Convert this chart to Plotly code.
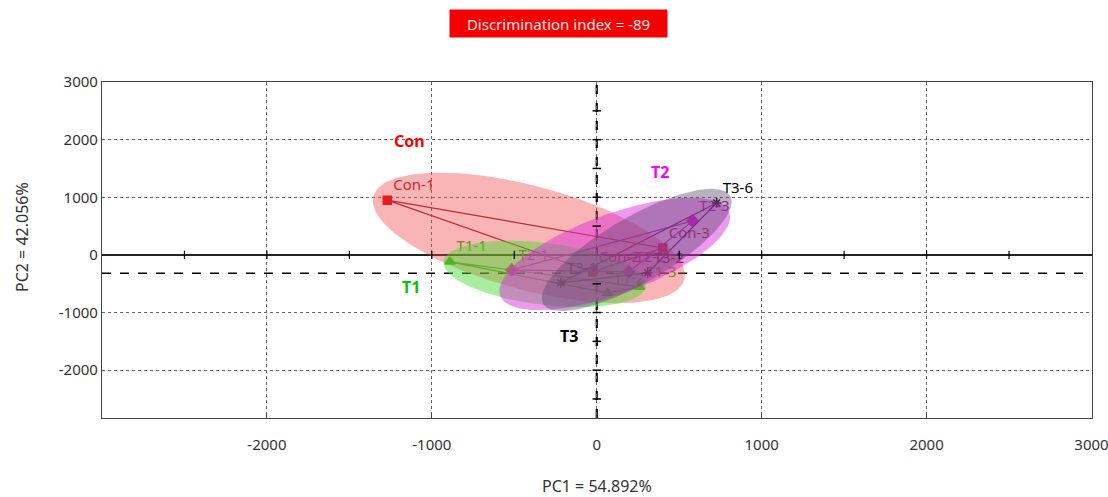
import numpy as np
import plotly.graph_objects as go

# ---------------- data ----------------
con_names = ["Con-1", "Con-2", "Con-3"]
con_x = [-1270, -25, 400]
con_y = [950, -295, 120]

t1_names = ["T1-1", "T1-2", "T1-3"]
t1_x = [-890, 65, 260]
t1_y = [-120, -660, -555]

t2_names = ["T2-1", "T2-2", "T2-3"]
t2_x = [-515, 194, 582]
t2_y = [-260, -295, 590]

t3_names = ["T3-1", "T3-2", "T3-6"]
t3_x = [-218, 309, 727]
t3_y = [-486, -312, 902]

x_ticks = [-2000, -1000, 0, 1000, 2000, 3000]
x_ticktext = ["-2000", "-1000", "0", "1000", "2000", "3000"]
y_ticks = [-2000, -1000, 0, 1000, 2000, 3000]
y_ticktext = ["-2000", "-1000", "0", "1000", "2000", "3000"]
minor_ticks = [-2500, -2000, -1500, -1000, -500, 500, 1000, 1500, 2000, 2500]
dashed_y = -320
disc_index = -89
pc1_pct = 54.892
pc2_pct = 42.056

# ---------------- layout geometry ----------------
W, H = 1108, 497
ML, MR, MT, MB = 102, 16, 82, 79
PW, PH = W - ML - MR, H - MT - MB
XR = [-3000, 3000]
YR = [-2830, 3000]
PX_X = PW / (XR[1] - XR[0])
PX_Y = PH / (YR[1] - YR[0])

# ellipse params: centre (data), semi-axes (px), angle (deg, screen, ccw)
ellipses = [
    dict(cx=-412, cy=295, a=161, b=52, ang=-15, fill="rgba(240,70,70,0.40)"),
    dict(cx=-315, cy=-330, a=102, b=31, ang=-7, fill="rgba(60,220,40,0.45)"),
    dict(cx=109, cy=17, a=122, b=40, ang=20, fill="rgba(220,40,220,0.48)"),
    dict(cx=242, cy=87, a=108, b=33, ang=30, fill="rgba(90,70,110,0.42)"),
]


def ellipse_pts(cx, cy, a, b, ang, n=160):
    t = np.linspace(0, 2 * np.pi, n)
    th = np.radians(ang)
    dx = a * np.cos(t) * np.cos(th) - b * np.sin(t) * np.sin(th)
    dy = a * np.cos(t) * np.sin(th) + b * np.sin(t) * np.cos(th)
    return cx + dx / PX_X, cy + dy / PX_Y


fig = go.Figure()

groups = [
    (con_names, con_x, con_y, "#a01828", "#e00000", "square", 8, "#b01020"),
    (t1_names, t1_x, t1_y, "#20b020", "#10c010", "triangle-up", 9, "#10b010"),
    (t2_names, t2_x, t2_y, "#b020b0", "#e000e0", "diamond", 9, "#c000c0"),
    (t3_names, t3_x, t3_y, "#302030", "#000000", "asterisk-open", 8, "#000000"),
]

label_font = "Noto Sans, Open Sans, DejaVu Sans, sans-serif"

for names, xs, ys, lcol, mcol, sym, msize, tcol in groups:
    fig.add_trace(go.Scatter(
        x=list(xs) + [xs[0]], y=list(ys) + [ys[0]], mode="lines",
        line=dict(color=lcol, width=1.2), hoverinfo="skip", showlegend=False))
    fig.add_trace(go.Scatter(
        x=xs, y=ys, mode="markers+text", text=names, textposition="top right",
        textfont=dict(family=label_font, size=15, color=tcol),
        marker=dict(symbol=sym, size=msize, color=mcol,
                    line=dict(color=mcol, width=1.5)),
        hoverinfo="skip", showlegend=False))

for e in ellipses:
    ex, ey = ellipse_pts(e["cx"], e["cy"], e["a"], e["b"], e["ang"])
    fig.add_trace(go.Scatter(
        x=ex, y=ey, mode="lines", fill="toself", fillcolor=e["fill"],
        line=dict(width=0), hoverinfo="skip", showlegend=False))

# minor tick marks on the zero axes
fig.add_trace(go.Scatter(
    x=[0] * len(minor_ticks), y=minor_ticks, mode="markers",
    marker=dict(symbol="line-ew", size=6, line=dict(color="black", width=1.5)),
    hoverinfo="skip", showlegend=False))
fig.add_trace(go.Scatter(
    x=minor_ticks, y=[0] * len(minor_ticks), mode="markers",
    marker=dict(symbol="line-ns", size=6, line=dict(color="black", width=1.2)),
    hoverinfo="skip", showlegend=False))

# axis / reference lines
fig.add_shape(type="line", x0=0, x1=0, y0=YR[0], y1=YR[1],
              line=dict(color="black", width=2.2, dash="dash"), layer="below")
fig.add_shape(type="line", x0=XR[0], x1=XR[1], y0=dashed_y, y1=dashed_y,
              line=dict(color="black", width=1.5, dash="dash"), layer="below")

tick_font = dict(family=label_font, size=15, color="#333333")

fig.update_xaxes(range=[XR[0], XR[1] + 3], tickvals=x_ticks, ticktext=x_ticktext,
                 automargin=False, ticklabeloverflow="allow",
                 showgrid=True, gridcolor="#666666",
                 griddash="dot", gridwidth=1, zeroline=False, showline=True,
                 linecolor="#444444", linewidth=1.2, mirror=True,
                 ticks="inside", ticklen=5, tickcolor="#444444",
                 ticklabelstandoff=13, tickfont=tick_font)
fig.update_yaxes(range=YR, tickvals=y_ticks, ticktext=y_ticktext,
                 automargin=False, ticklabeloverflow="allow",
                 showgrid=True, gridcolor="#666666",
                 griddash="dot", gridwidth=1, zeroline=True, zerolinecolor="#222222",
                 zerolinewidth=1.5, showline=True, linecolor="#444444",
                 linewidth=1.2, mirror=True, ticks="", tickfont=tick_font)

annotations = [
    dict(text=f"Discrimination index = {disc_index}", xref="paper", yref="paper",
         x=(558 - ML) / PW, y=1 + (MT - 24) / PH, xanchor="center", yanchor="middle",
         showarrow=False, bgcolor="#f50000",
         font=dict(family=label_font, size=15, color="#ffe8e8"),
         width=211, height=21, borderpad=3),
    dict(text=f"PC1 = {pc1_pct}%", xref="paper", yref="paper",
         x=(597 - ML) / PW, y=-68 / PH, xanchor="center", yanchor="middle",
         showarrow=False, font=dict(family=label_font, size=16, color="#333333")),
    dict(text=f"PC2 = {pc2_pct}%", xref="paper", yref="paper",
         x=(22 - ML) / PW, y=(418 - 237) / PH, xanchor="center", yanchor="middle",
         showarrow=False, textangle=-90,
         font=dict(family=label_font, size=16, color="#333333")),
    dict(text="<b>Con</b>", x=-1133, y=1983, showarrow=False,
         font=dict(family=label_font, size=16, color="#ff0000")),
    dict(text="<b>T2</b>", x=382, y=1443, showarrow=False,
         font=dict(family=label_font, size=16, color="#ff00ff")),
    dict(text="<b>T1</b>", x=-1127, y=-557, showarrow=False,
         font=dict(family=label_font, size=16, color="#00c800")),
    dict(text="<b>T3</b>", x=-170, y=-1409, showarrow=False,
         font=dict(family=label_font, size=16, color="#000000")),
]

fig.update_layout(
    width=W, height=H, autosize=False,
    margin=dict(l=ML, r=MR, t=MT, b=MB),
    paper_bgcolor="white", plot_bgcolor="white",
    annotations=annotations, showlegend=False,
)

fig.write_html("out.html")
